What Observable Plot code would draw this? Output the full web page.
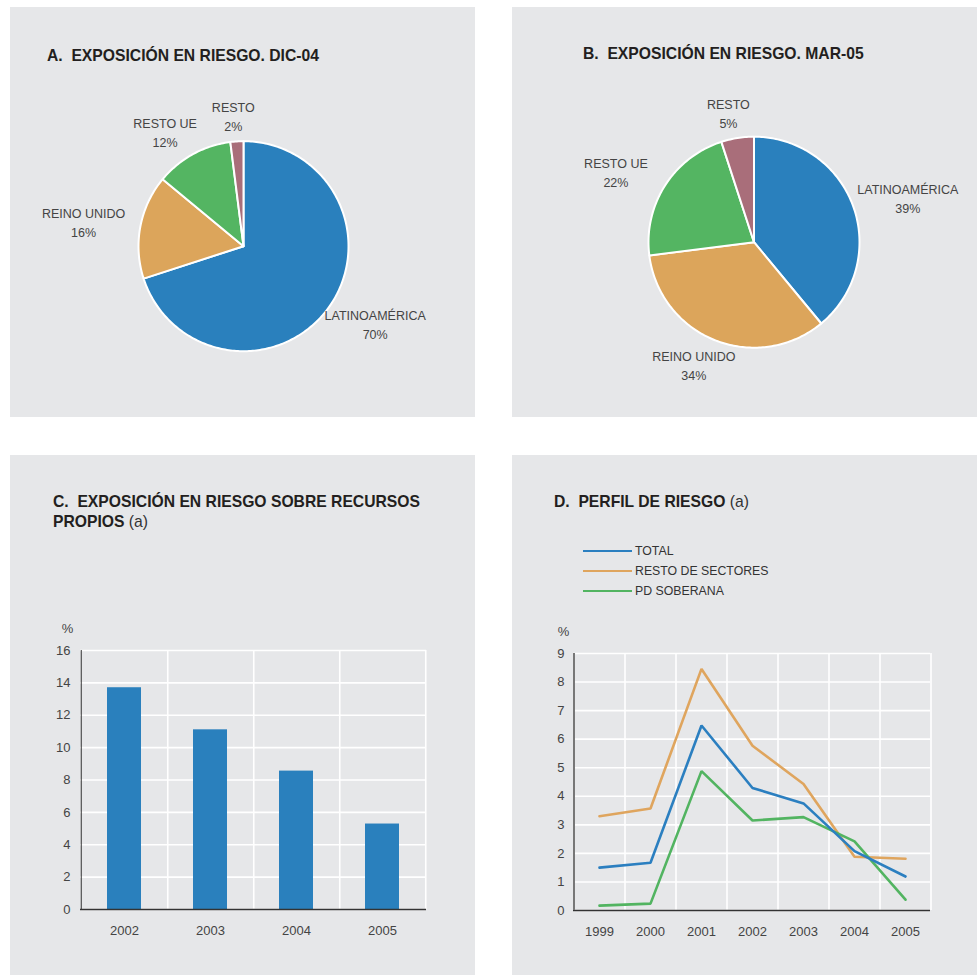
<!DOCTYPE html>
<html>
<head>
<meta charset="utf-8">
<script src="https://cdn.jsdelivr.net/npm/d3@7"></script>
<script src="https://cdn.jsdelivr.net/npm/@observablehq/plot@0.6"></script>
<style>
  body { margin: 0; background: #fff; width: 977px; height: 975px; position: relative; overflow: hidden;
         font-family: "Liberation Sans", Arial, Helvetica, sans-serif; }
  .panel { position: absolute; background: #e6e7e9; overflow: hidden; }
  .panel svg { position: absolute; left: 0; top: 0; }
  .title { position: absolute; font-size: 15.7px; font-weight: bold; color: #231f20; line-height: 20px; white-space: pre; z-index: 2; }
  .title .n { font-weight: normal; color: #333; }
  .legend { position: absolute; z-index: 2; font-size: 12.3px; color: #333; }
  .legend .row { display: flex; align-items: center; height: 20px; }
  .legend .sw { display: inline-block; width: 49px; height: 2.5px; margin-right: 3px; }
</style>
</head>
<body>
<div id="A" class="panel" style="left:10px;top:7px;width:465px;height:410px">
  <div class="title" style="left:37px;top:38.6px">A.  EXPOSICIÓN EN RIESGO. DIC-04</div>
</div>
<div id="B" class="panel" style="left:512px;top:7px;width:465px;height:410px">
  <div class="title" style="left:71px;top:37px">B.  EXPOSICIÓN EN RIESGO. MAR-05</div>
</div>
<div id="C" class="panel" style="left:10px;top:455px;width:465px;height:520px">
  <div class="title" style="left:43px;top:36.6px">C.  EXPOSICIÓN EN RIESGO SOBRE RECURSOS</div>
  <div class="title" style="left:43px;top:56.6px">PROPIOS <span class="n">(a)</span></div>
</div>
<div id="D" class="panel" style="left:512px;top:455px;width:465px;height:520px">
  <div class="title" style="left:42px;top:36.6px">D.  PERFIL DE RIESGO <span class="n">(a)</span></div>
  <div class="legend" id="legendD" style="left:71px;top:86px"></div>
</div>
<script>
// ---------- DATA ----------
const regions = ["LATINOAMÉRICA", "REINO UNIDO", "RESTO UE", "RESTO"];
const sharesDic04 = [70, 16, 12, 2];
const sharesMar05 = [39, 34, 22, 5];

const yearsC = ["2002", "2003", "2004", "2005"];
const exposureC = [13.7, 11.1, 8.55, 5.28];
const yTicksC = [0, 2, 4, 6, 8, 10, 12, 14, 16];

const yearsD = ["1999", "2000", "2001", "2002", "2003", "2004", "2005"];
const seriesD = ["TOTAL", "RESTO DE SECTORES", "PD SOBERANA"];
const totalD = [1.5, 1.67, 6.48, 4.29, 3.75, 2.08, 1.19];
const restoD = [3.3, 3.57, 8.46, 5.77, 4.43, 1.88, 1.81];
const pdD = [0.17, 0.24, 4.88, 3.15, 3.27, 2.42, 0.38];
const yTicksD = [0, 1, 2, 3, 4, 5, 6, 7, 8, 9];

// ---------- STYLE ----------
const FONT = '"Liberation Sans", Arial, Helvetica, sans-serif';
const SLICE_COLORS = ["#2a80bd", "#dca55b", "#54b562", "#a96e7a"];
const BAR_COLOR = "#2a80bd";
const LINE_COLORS = ["#2b7fc0", "#dfa55e", "#52b461"];
const LABEL_RX = 1.55, LABEL_RY = 1.25;

function pie(names, shares, ml, mr, mt, mb) {
  const total = d3.sum(shares);
  const rows = [], labels = [];
  let cum = 0;
  names.forEach((name, i) => {
    const a0 = cum / total * 2 * Math.PI;
    cum += shares[i];
    const a1 = cum / total * 2 * Math.PI;
    rows.push({name, x: 0, y: 0});
    const n = Math.max(2, Math.ceil((a1 - a0) / (Math.PI / 180)));
    for (let k = 0; k <= n; k++) {
      const a = a0 + (a1 - a0) * k / n;
      rows.push({name, x: Math.sin(a), y: Math.cos(a)});
    }
    const am = (a0 + a1) / 2;
    labels.push({x: LABEL_RX * Math.sin(am), y: LABEL_RY * Math.cos(am), text: `${name}\n${shares[i]}%`});
  });
  return Plot.plot({
    width: 465, height: 410,
    marginLeft: ml, marginRight: mr, marginTop: mt, marginBottom: mb,
    style: {background: "none", fontFamily: FONT, overflow: "visible"},
    x: {domain: [-1, 1], axis: null},
    y: {domain: [-1, 1], axis: null},
    color: {domain: names, range: SLICE_COLORS},
    marks: [
      Plot.line(rows, {x: "x", y: "y", z: "name", fill: "name", stroke: "#fff", strokeWidth: 2,
                       strokeLinejoin: "round", curve: "linear-closed"}),
      Plot.text(labels, {x: "x", y: "y", text: "text", fontSize: 12.5, lineHeight: 1.52, fill: "#444"})
    ]
  });
}

document.getElementById("A").prepend(pie(regions, sharesDic04, 128, 127, 133.7, 66.3));
document.getElementById("B").prepend(pie(regions, sharesMar05, 136, 118, 129.2, 69.8));

// ---------- C: bars ----------
{
  const W = 465, H = 520, ml = 70, mr = 49, mt = 195, mb = 66;
  const step = (W - ml - mr) / yearsC.length;
  const data = yearsC.map((year, i) => ({year, v: exposureC[i]}));
  const svg = Plot.plot({
    width: W, height: H, marginLeft: ml, marginRight: mr, marginTop: mt, marginBottom: mb,
    style: {background: "none", fontFamily: FONT, fontSize: "13px", color: "#444", overflow: "visible"},
    x: {type: "band", domain: yearsC, paddingInner: 0.6, paddingOuter: 0.3, tickSize: 0, tickPadding: 16, label: null},
    y: {domain: [0, 16], ticks: yTicksC, tickSize: 0, tickPadding: 10, label: null},
    marks: [
      Plot.ruleY(yTicksC, {stroke: "#fff", strokeWidth: 1.6}),
      Plot.ruleX(yearsC, {x: d => d, dx: step / 2, stroke: "#fff", strokeWidth: 1.6}),
      Plot.barY(data, {x: "year", y: "v", fill: BAR_COLOR}),
      Plot.ruleY([0], {stroke: "#333", strokeWidth: 1.3}),
      Plot.ruleX([yearsC[0]], {x: d => d, dx: -step / 2, stroke: "#333", strokeWidth: 1}),
      Plot.text(["%"], {text: d => d, frameAnchor: "top-left", textAnchor: "middle", dx: -13, dy: -27, fontSize: 13, fill: "#444"})
    ]
  });
  document.getElementById("C").prepend(svg);
}

// ---------- D: lines ----------
{
  const W = 465, H = 520, ml = 61, mr = 47, mt = 198, mb = 65;
  const step = (W - ml - mr) / yearsD.length;
  const values = [totalD, restoD, pdD];
  const long = [];
  seriesD.forEach((s, j) => yearsD.forEach((year, i) => long.push({series: s, year, v: values[j][i]})));
  const drawOrder = ["RESTO DE SECTORES", "PD SOBERANA", "TOTAL"];
  const svg = Plot.plot({
    width: W, height: H, marginLeft: ml, marginRight: mr, marginTop: mt, marginBottom: mb,
    style: {background: "none", fontFamily: FONT, fontSize: "13px", color: "#444", overflow: "visible"},
    x: {type: "point", domain: yearsD, padding: 0.5, tickSize: 0, tickPadding: 16, label: null},
    y: {domain: [0, 9], ticks: yTicksD, tickSize: 0, tickPadding: 9, label: null},
    color: {domain: seriesD, range: LINE_COLORS},
    marks: [
      Plot.ruleY(yTicksD, {stroke: "#fff", strokeWidth: 1.6}),
      Plot.ruleX(yearsD, {x: d => d, dx: step / 2, stroke: "#fff", strokeWidth: 1.6}),
      ...drawOrder.map(s => Plot.line(long.filter(d => d.series === s),
        {x: "year", y: "v", stroke: "series", strokeWidth: 2.6, strokeLinejoin: "miter"})),
      Plot.ruleY([0], {stroke: "#333", strokeWidth: 1.3}),
      Plot.ruleX([yearsD[0]], {x: d => d, dx: -step / 2, stroke: "#777", strokeWidth: 2}),
      Plot.text(["%"], {text: d => d, frameAnchor: "top-left", textAnchor: "middle", dx: -10, dy: -27, fontSize: 13, fill: "#444"})
    ]
  });
  document.getElementById("D").prepend(svg);

  const leg = document.getElementById("legendD");
  seriesD.forEach((s, j) => {
    const row = document.createElement("div");
    row.className = "row";
    const sw = document.createElement("span");
    sw.className = "sw";
    sw.style.background = LINE_COLORS[j];
    row.appendChild(sw);
    row.appendChild(document.createTextNode(s));
    leg.appendChild(row);
  });
}
</script>
</body>
</html>
